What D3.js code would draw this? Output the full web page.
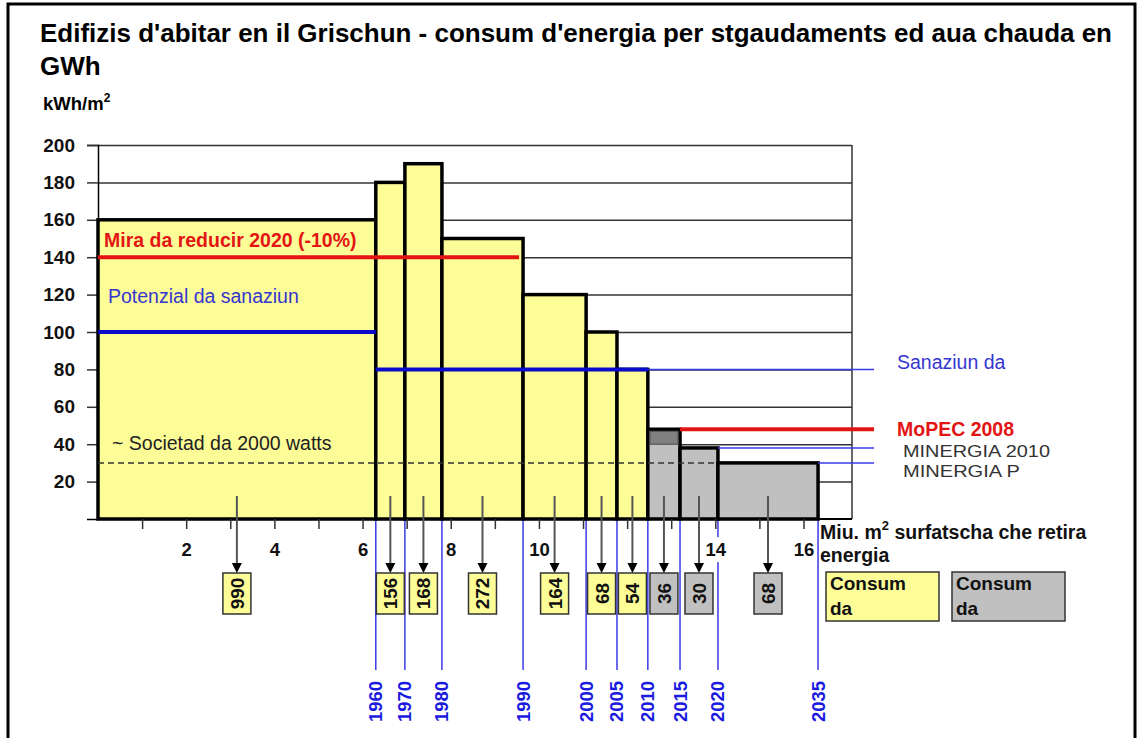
<!DOCTYPE html>
<html>
<head>
<meta charset="utf-8">
<script src="https://cdn.jsdelivr.net/npm/d3@7"></script>
<style>
  body { margin: 0; background: #fff; }
  svg text { font-family: "Liberation Sans", Arial, sans-serif; }
</style>
</head>
<body>
<svg id="chart" width="1143" height="738"></svg>
<script>
'use strict';

// ---- data ----
const periodEnds = ['1960', '1970', '1980', '1990', '2000', '2005', '2010', '2015', '2020', '2035'];
const areaMio = [6.3, 0.66, 0.84, 1.84, 1.43, 0.70, 0.70, 0.73, 0.86, 2.27];   // Miu. m2 per period
const kwhPerM2 = [160, 180, 190, 150, 120, 100, 80, 48, 38, 30];
const gwh = [990, 156, 168, 272, 164, 68, 54, 36, 30, 68];
const isNew = [false, false, false, false, false, false, false, true, true, true];
const minergiaPart = 40;          // light grey part of the 2010-2015 bar

const yTicks = [20, 40, 60, 80, 100, 120, 140, 160, 180, 200];
const xTicks = [1, 2, 3, 4, 5, 6, 7, 8, 9, 10, 11, 12, 13, 14, 15, 16];
const xTickLabels = [2, 4, 6, 8, 10, 14, 16];

const refLabels = ['Mira da reducir 2020 (-10%)', 'Potenzial da sanaziun', 'Sanaziun da',
  '~ Societad da 2000 watts', 'MoPEC 2008', 'MINERGIA 2010', 'MINERGIA P'];
const refValues = [140, 100, 80, 30, 48, 38, 30];
const refStart = [0, 0, 6.3, 0, 13.2, 14.06, 16.33];
const refEnd = [9.55, 6.3, 17.6, 14.06, 17.6, 17.6, 17.6];
const sanaziunThickEnd = 12.47;

const legendLabels = [['Consum', 'da'], ['Consum', 'da']];

// ---- layout ----
let svg = d3.select('#chart');
let x = d3.scaleLinear().domain([0, 17.1]).range([98, 852]);
let y = d3.scaleLinear().domain([0, 200]).range([519, 145]);
const yellow = '#fdfd98', grey = '#c0c0c0', darkGrey = '#808080';
const red = '#e31414', blue = '#0a0acc', thinBlue = '#3a3ae8';

// outer frame
svg.append('rect').attr('x', 8).attr('y', 4).attr('width', 1127).attr('height', 780)
  .attr('fill', 'none').attr('stroke', '#000').attr('stroke-width', 3);

// title
svg.append('text').attr('x', 40).attr('y', 42)
  .attr('font-size', 26).attr('font-weight', 'bold')
  .attr('textLength', 1072).attr('lengthAdjust', 'spacingAndGlyphs')
  .text("Edifizis d'abitar en il Grischun - consum d'energia per stgaudaments ed aua chauda en");
svg.append('text').attr('x', 40).attr('y', 75)
  .attr('font-size', 26).attr('font-weight', 'bold').text('GWh');

let unit = svg.append('text').attr('x', 43).attr('y', 110)
  .attr('font-size', 18.5).attr('font-weight', 'bold');
unit.append('tspan').text('kWh/m');
unit.append('tspan').attr('font-size', 12).attr('dy', -8).text('2');

// gridlines + frame
let grid = d3.axisLeft(y).tickValues(yTicks).tickSize(-(852 - 98)).tickFormat('');
svg.append('g').attr('transform', 'translate(98,0)').call(grid)
  .call(g => g.select('.domain').remove())
  .selectAll('line').attr('stroke', '#333').attr('stroke-width', 1.5);
svg.append('line').attr('x1', 852).attr('x2', 852).attr('y1', y(200)).attr('y2', y(0))
  .attr('stroke', '#333').attr('stroke-width', 1.5);
svg.append('line').attr('x1', 98).attr('x2', 852).attr('y1', y(0)).attr('y2', y(0))
  .attr('stroke', '#000').attr('stroke-width', 2);

// y axis labels
let yAxis = d3.axisLeft(y).tickValues(yTicks).tickSize(11).tickPadding(12);
svg.append('g').attr('transform', 'translate(98,0)').call(yAxis)
  .call(g => g.select('.domain').attr('stroke', '#000').attr('stroke-width', 1.5))
  .call(g => g.selectAll('line').attr('stroke', '#333').attr('stroke-width', 1.5))
  .call(g => g.selectAll('text').attr('font-size', 19).attr('font-weight', 'bold')
    .attr('font-family', '"Liberation Sans", Arial, sans-serif').attr('fill', '#111'));

// bar edges from cumulative area
let edges = [0];
areaMio.forEach(a => edges.push(edges[edges.length - 1] + a));

// blue period lines below the axis
svg.append('g').selectAll('line').data(periodEnds).join('line')
  .attr('x1', (d, i) => x(edges[i + 1])).attr('x2', (d, i) => x(edges[i + 1]))
  .attr('y1', y(0)).attr('y2', 670)
  .attr('stroke', thinBlue).attr('stroke-width', 1.5);

// bars
let bars = svg.append('g');
bars.selectAll('rect').data(kwhPerM2).join('rect')
  .attr('x', (d, i) => x(edges[i]))
  .attr('width', (d, i) => x(edges[i + 1]) - x(edges[i]))
  .attr('y', d => y(d))
  .attr('height', d => y(0) - y(d))
  .attr('fill', (d, i) => isNew[i] ? grey : yellow)
  .attr('stroke', '#000').attr('stroke-width', 3.5);
// darker cap of the 2010-2015 bar
bars.append('rect')
  .attr('x', x(edges[7]) + 2).attr('width', x(edges[8]) - x(edges[7]) - 4)
  .attr('y', y(kwhPerM2[7]) + 2).attr('height', y(minergiaPart) - y(kwhPerM2[7]) - 2)
  .attr('fill', darkGrey).attr('stroke', '#444').attr('stroke-width', 1);

// reference lines
let refs = svg.append('g');
refValues.forEach((v, i) => {
  let name = refLabels[i];
  let line = refs.append('line')
    .attr('x1', x(refStart[i])).attr('x2', x(refEnd[i]))
    .attr('y1', y(v)).attr('y2', y(v));
  if (name.startsWith('Mira') || name.startsWith('MoPEC')) {
    line.attr('stroke', red).attr('stroke-width', 4);
  } else if (name.startsWith('Potenzial')) {
    line.attr('stroke', blue).attr('stroke-width', 4);
  } else if (name.startsWith('Sanaziun')) {
    line.attr('stroke', thinBlue).attr('stroke-width', 1.5);
    refs.append('line').attr('x1', x(refStart[i])).attr('x2', x(sanaziunThickEnd))
      .attr('y1', y(v)).attr('y2', y(v)).attr('stroke', blue).attr('stroke-width', 4);
  } else if (name.startsWith('~')) {
    line.attr('stroke', '#333').attr('stroke-width', 1.5).attr('stroke-dasharray', '6,4');
  } else {
    line.attr('stroke', thinBlue).attr('stroke-width', 1.5);
  }
});

// reference labels
const labelX = [104, 108, 897, 112, 897, 903, 903];
const labelDy = [-10, -29, 0, -13, 7, 9, 14];
const labelFill = [red, '#3535d0', '#3535d0', '#222', red, '#333', '#333'];
const labelBold = [true, false, false, false, true, false, false];
const labelSize = [19.5, 19.5, 19.5, 19.5, 19.5, 17, 17];
const labelLen = [null, null, null, null, null, 147, 117];
refLabels.forEach((t, i) => {
  let lbl = svg.append('text').attr('x', labelX[i]).attr('y', y(refValues[i]) + labelDy[i])
    .attr('font-size', labelSize[i]).attr('font-weight', labelBold[i] ? 'bold' : 'normal')
    .attr('fill', labelFill[i]).text(t);
  if (labelLen[i]) lbl.attr('textLength', labelLen[i]).attr('lengthAdjust', 'spacingAndGlyphs');
});

// x axis
let xAxis = d3.axisBottom(x).tickValues(xTicks).tickSize(10).tickPadding(14)
  .tickFormat(d => xTickLabels.includes(d) ? d : '');
let gx = svg.append('g').attr('transform', `translate(0,${y(0)})`).call(xAxis);
gx.select('.domain').remove();
gx.selectAll('line').attr('stroke', '#333').attr('stroke-width', 1.5);
gx.selectAll('text').attr('font-size', 18.5).attr('font-weight', 'bold')
  .attr('font-family', '"Liberation Sans", Arial, sans-serif').attr('fill', '#111');
gx.selectAll('.tick').each(function(d) {
  if (!xTickLabels.includes(d)) return;
  let t = d3.select(this).select('text');
  let b = t.node().getBBox();
  d3.select(this).insert('rect', 'text')
    .attr('x', b.x - 1).attr('y', b.y - 2).attr('width', b.width + 2).attr('height', b.height + 4)
    .attr('fill', '#fff');
});

let axisLabel = svg.append('text').attr('x', 820).attr('y', 539)
  .attr('font-size', 19.5).attr('font-weight', 'bold').attr('fill', '#111');
axisLabel.append('tspan').text('Miu. m');
axisLabel.append('tspan').attr('font-size', 13).attr('dy', -9).text('2');
axisLabel.append('tspan').attr('dy', 9).text(' surfatscha che retira');
svg.append('text').attr('x', 820).attr('y', 562)
  .attr('font-size', 19.5).attr('font-weight', 'bold').attr('fill', '#111').text('energia');

// arrows + GWh boxes
let boxes = svg.append('g');
gwh.forEach((v, i) => {
  let cx = x((edges[i] + edges[i + 1]) / 2);
  boxes.append('line').attr('x1', cx).attr('x2', cx).attr('y1', 496).attr('y2', 564)
    .attr('stroke', '#555').attr('stroke-width', 2);
  boxes.append('path').attr('d', `M${cx - 5},563L${cx + 5},563L${cx},573Z`).attr('fill', '#000');
  boxes.append('rect').attr('x', cx - 14).attr('y', 573).attr('width', 28).attr('height', 41)
    .attr('fill', isNew[i] ? grey : yellow).attr('stroke', '#333').attr('stroke-width', 1.5);
  boxes.append('text').attr('transform', `translate(${cx + 7},${593.5}) rotate(-90)`)
    .attr('text-anchor', 'middle').attr('font-size', 19).attr('font-weight', 'bold')
    .attr('fill', '#111').text(v);
});

// year labels
svg.append('g').selectAll('text').data(periodEnds).join('text')
  .attr('transform', (d, i) => `translate(${x(edges[i + 1]) + 6.5},722) rotate(-90)`)
  .attr('font-size', 18.5).attr('font-weight', 'bold').attr('fill', '#1a1ae0')
  .text(d => d);

// legend
const legendX = [826, 952];
const legendFill = [yellow, grey];
legendLabels.forEach((lines, i) => {
  svg.append('rect').attr('x', legendX[i]).attr('y', 572).attr('width', 113).attr('height', 49)
    .attr('fill', legendFill[i]).attr('stroke', '#333').attr('stroke-width', 1.5);
  lines.forEach((t, j) => {
    svg.append('text').attr('x', legendX[i] + 4).attr('y', 590 + j * 25)
      .attr('font-size', 19).attr('font-weight', 'bold').attr('fill', '#111').text(t);
  });
});
</script>
</body>
</html>
